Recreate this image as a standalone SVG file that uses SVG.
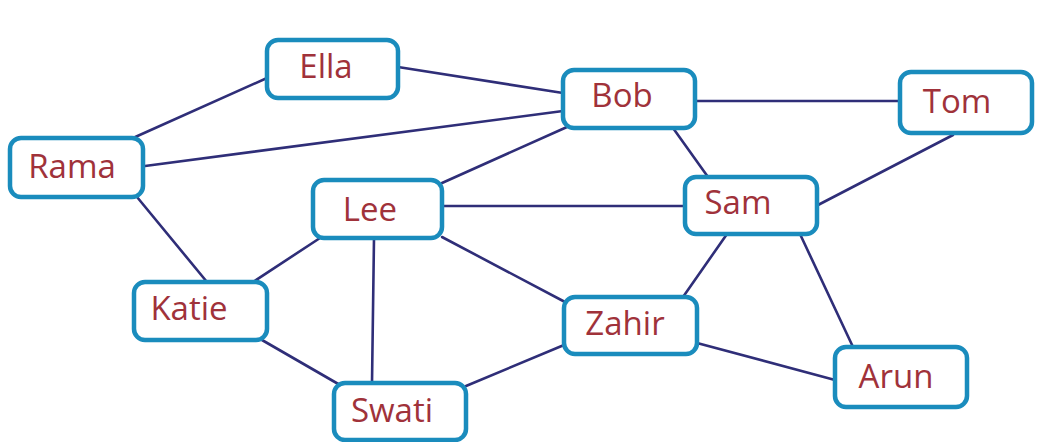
<svg xmlns="http://www.w3.org/2000/svg" width="1052" height="442" viewBox="0 0 1052 442">
<style>
.edge{stroke:#2f2e78;stroke-width:2.6;fill:none;stroke-linecap:round}
.box{fill:#ffffff;stroke:#1a8cbd;stroke-width:4.5}
.lbl{font-family:"Open Sans","Liberation Sans",sans-serif;font-size:33px;fill:#a0323a;text-anchor:middle}
</style>
<rect width="1052" height="442" fill="#ffffff"/>
<g id="connectors">
<line class="edge" x1="133" y1="138" x2="267" y2="78"/>
<line class="edge" x1="398" y1="67" x2="563" y2="93"/>
<line class="edge" x1="145" y1="166" x2="563" y2="111"/>
<line class="edge" x1="442" y1="183" x2="567" y2="127"/>
<line class="edge" x1="695" y1="101" x2="900" y2="101"/>
<line class="edge" x1="673" y1="128" x2="708" y2="177"/>
<line class="edge" x1="953" y1="135" x2="818" y2="205"/>
<line class="edge" x1="442" y1="206" x2="685" y2="206"/>
<line class="edge" x1="137" y1="197" x2="207" y2="282"/>
<line class="edge" x1="253" y1="282" x2="320" y2="238"/>
<line class="edge" x1="374" y1="238" x2="372" y2="383"/>
<line class="edge" x1="442" y1="237" x2="565" y2="302"/>
<line class="edge" x1="262" y1="340" x2="340" y2="385"/>
<line class="edge" x1="466" y1="386" x2="564" y2="345"/>
<line class="edge" x1="727" y1="234" x2="683" y2="297"/>
<line class="edge" x1="800" y1="234" x2="853" y2="347"/>
<line class="edge" x1="697" y1="343" x2="835" y2="380"/>
</g>
<g id="node-ella"><rect class="box" x="267" y="40" width="131" height="58" rx="11"/><text class="lbl" x="326" y="78">Ella</text></g>
<g id="node-bob"><rect class="box" x="563" y="70" width="132" height="58" rx="11"/><text class="lbl" x="622" y="107">Bob</text></g>
<g id="node-tom"><rect class="box" x="900" y="72" width="132" height="61" rx="11"/><text class="lbl" x="957" y="113">Tom</text></g>
<g id="node-rama"><rect class="box" x="10" y="138" width="133" height="59" rx="11"/><text class="lbl" x="72" y="178">Rama</text></g>
<g id="node-lee"><rect class="box" x="313" y="180" width="129" height="58" rx="11"/><text class="lbl" x="370" y="221">Lee</text></g>
<g id="node-sam"><rect class="box" x="685" y="177" width="132" height="57" rx="11"/><text class="lbl" x="738" y="214">Sam</text></g>
<g id="node-katie"><rect class="box" x="134" y="282" width="133" height="58" rx="11"/><text class="lbl" x="189" y="320">Katie</text></g>
<g id="node-zahir"><rect class="box" x="564" y="297" width="133" height="57" rx="11"/><text class="lbl" x="625" y="335">Zahir</text></g>
<g id="node-arun"><rect class="box" x="835" y="347" width="132" height="60" rx="11"/><text class="lbl" x="896" y="388">Arun</text></g>
<g id="node-swati"><rect class="box" x="334" y="383" width="132" height="57" rx="11"/><text class="lbl" x="392" y="422">Swati</text></g>
</svg>
